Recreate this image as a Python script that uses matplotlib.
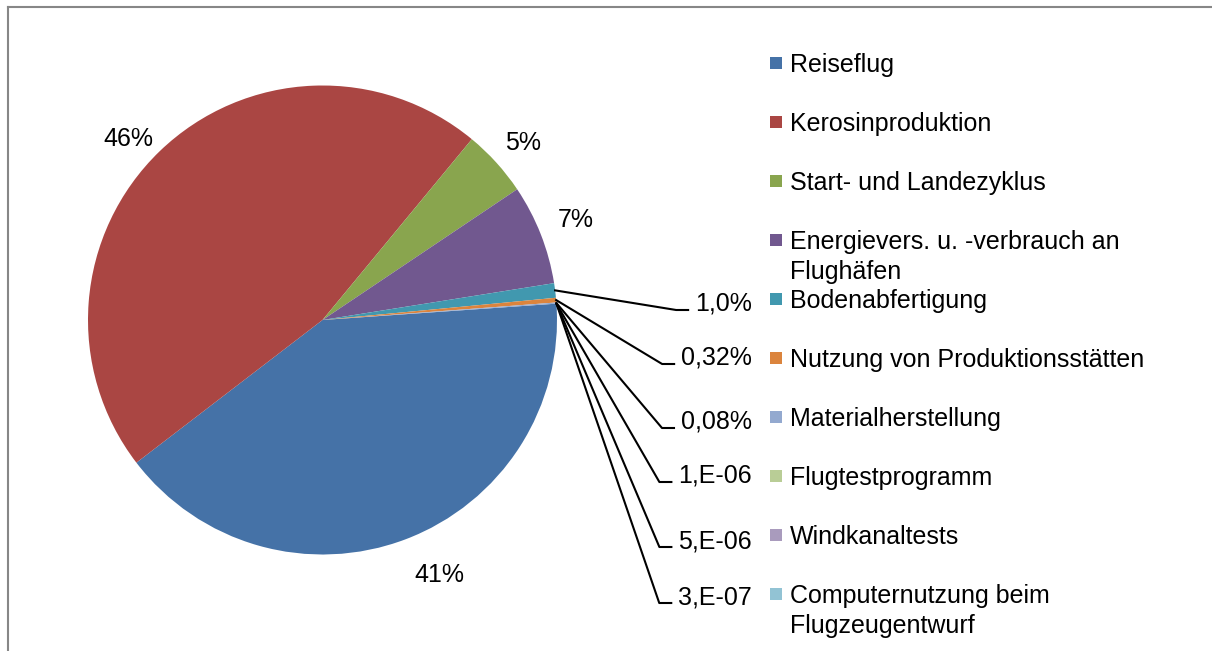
import matplotlib.pyplot as plt
import numpy as np
from matplotlib.lines import Line2D
from matplotlib.patches import Rectangle

plt.rcParams['font.family'] = ['Liberation Sans', 'DejaVu Sans']

categories = [
    "Reiseflug",
    "Kerosinproduktion",
    "Start- und Landezyklus",
    "Energievers. u. -verbrauch an\nFlughäfen",
    "Bodenabfertigung",
    "Nutzung von Produktionsstätten",
    "Materialherstellung",
    "Flugtestprogramm",
    "Windkanaltests",
    "Computernutzung beim\nFlugzeugentwurf",
]
# Anteile in Prozent
shares = [40.7, 46.4, 4.6, 6.9, 1.0, 0.32, 0.08, 1e-4, 5e-4, 3e-5]
value_labels = ["41%", "46%", "5%", "7%", "1,0%", "0,32%", "0,08%",
                "1,E-06", "5,E-06", "3,E-07"]
colors = ["#4572A7", "#AA4643", "#89A54E", "#71588F", "#4198AF",
          "#DB843D", "#93A9CF", "#B9CD96", "#A99BBD", "#92C3D4"]

W, H = 1212, 651
FS = 18


def fx(px):
    return px / W


def fy(py):
    return 1 - py / H


fig = plt.figure(figsize=(W / 100, H / 100), dpi=100)
fig.patch.set_facecolor("white")

# Rahmen (nur oben und links sichtbar)
fig.add_artist(Line2D([fx(8), 1.0], [fy(7), fy(7)], color="#878787", lw=1.5,
                      transform=fig.transFigure))
fig.add_artist(Line2D([fx(8), fx(8)], [fy(7), 0.0], color="#878787", lw=1.5,
                      transform=fig.transFigure))

ax = fig.add_axes([fx(88), fy(555), 469 / W, 470 / H])
wedges, _ = ax.pie(shares, colors=colors, startangle=4.0, counterclock=False,
                   radius=1.0, wedgeprops=dict(linewidth=0))
ax.set_xlim(-1, 1)
ax.set_ylim(-1, 1)

# Beschriftung der großen Segmente außerhalb des Kreises
label_r = [1.195, 1.13, 1.14, 1.16]
label_shift = [4.0, 3.0, -0.8, 0.0]   # Grad
for w, txt, r, d in zip(wedges[:4], value_labels[:4], label_r, label_shift):
    mid = np.deg2rad((w.theta1 + w.theta2) / 2 + d)
    ax.text(r * np.cos(mid), r * np.sin(mid), txt, ha="center", va="center",
            fontsize=FS, clip_on=False)

# Kleine Segmente mit Führungslinien
renderer = fig.canvas.get_renderer()
to_fig = fig.transFigure.inverted()
label_base = [311, 365, 429, 483, 548, 604]
for w, txt, yb in zip(wedges[4:], value_labels[4:], label_base):
    mid = np.deg2rad((w.theta1 + w.theta2) / 2)
    start = to_fig.transform(ax.transData.transform((np.cos(mid), np.sin(mid))))
    t = fig.text(fx(752), fy(yb), txt, ha="right", va="baseline", fontsize=FS)
    left = t.get_window_extent(renderer).x0
    xl = to_fig.transform((left, 0))[0]
    x_end = xl - 7 / W
    x_knee = x_end - 12 / W
    y_line = fy(yb - 1)
    fig.add_artist(Line2D([start[0], x_knee, x_end], [start[1], y_line, y_line],
                          color="black", lw=1.5, transform=fig.transFigure))

# Legende: Einträge in festem Abstand, Zeilenumbrüche ragen nach unten
for i, (lab, c) in enumerate(zip(categories, colors)):
    yb = 72 + 59 * i
    fig.add_artist(Rectangle((fx(770), fy(yb - 3)), 12 / W, 12 / H,
                             facecolor=c, edgecolor="none",
                             transform=fig.transFigure))
    for k, line in enumerate(lab.split("\n")):
        fig.text(fx(790), fy(yb + 30 * k), line, ha="left", va="baseline",
                 fontsize=FS)

fig.savefig("out.png", dpi=100, facecolor="white")
